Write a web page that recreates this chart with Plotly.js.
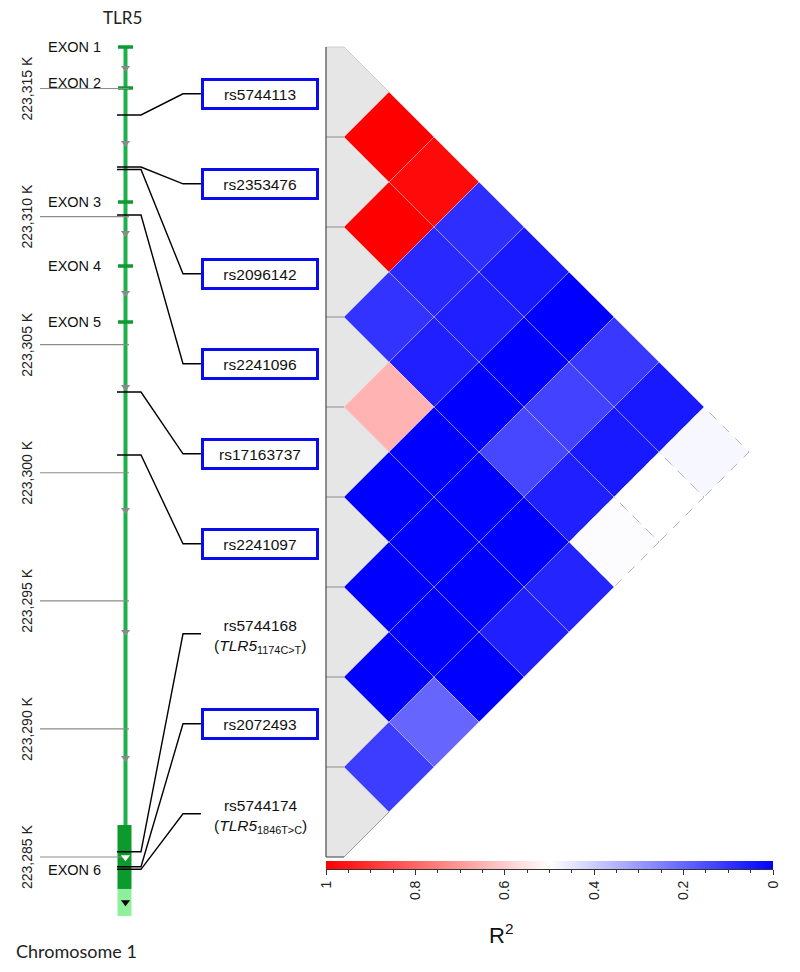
<!DOCTYPE html>
<html><head><meta charset="utf-8">
<script src="https://cdn.plot.ly/plotly-3.0.1.min.js"></script>
<style>html,body{margin:0;padding:0;background:#fff}#chart{width:800px;height:972px}</style>
</head><body><div id="chart"></div>
<script>
// ---------------- DATA ----------------
const snps = ['rs5744113','rs2353476','rs2096142','rs2241096','rs17163737','rs2241097','rs5744168','rs2072493','rs5744174'];
const snpPos = [223313966,223311936,223311838,223310062,223303152,223300693,223285207,223284622,223284520];
const snpBoxed = [true,true,true,true,true,true,false,true,false];
const snpAllele = ['','','','','','','1174C&gt;T','','1846T&gt;C'];
// pairwise R2, row i holds pairs (i, i+1..9)
const r2Rows = [
  [1.00,0.98,0.09,0.05,0.00,0.11,0.05,0.485],
  [1.00,0.08,0.06,0.00,0.13,0.05,0.50],
  [0.10,0.06,0.00,0.14,0.06,0.495],
  [0.65,0.00,0.00,0.00,0.07],
  [0.00,0.00,0.00,0.06],
  [0.00,0.00,0.00],
  [0.00,0.20],
  [0.12]
];
const exonNames = ['EXON 1','EXON 2','EXON 3','EXON 4','EXON 5','EXON 6'];
const exonPos = [223316620,223315020,223310569,223308071,223305885];
const exonLabelPos = [223316620,223315215,223310569,223308071,223305885,223284493];
const exon6Span = [223286252,223283754];
const utrSpan = [223283754,223282700];
const geneStart = 223316620;
const arrowPos = [223315800,223312873,223309359,223307017,223303347,223298546,223293784,223288865,223284989,223283232];
const genomeTicks = [223315000,223310000,223305000,223300000,223295000,223290000,223285000];
const genomeTickText = ['223,315 K','223,310 K','223,305 K','223,300 K','223,295 K','223,290 K','223,285 K'];
const r2Scale = [[0,'#0000ff'],[0.5,'#ffffff'],[1,'#ff0000']];

// ---------------- GEOMETRY ----------------
const PX0 = 344, UNIT = 90;
const px = p => (p - PX0) / UNIT;
const G_TOP = 223318455, G_BOT = 223280511;
const R_TOP = -0.022222, R_BOT = 10.777778;
const rowToBp = r => G_TOP + (r - R_TOP) / (R_BOT - R_TOP) * (G_BOT - G_TOP);
const AR = 'Arial, "Liberation Sans", sans-serif';

function r2Color(v){
  let r,g,b;
  if (v >= 0.5){ const t=(v-0.5)/0.5; r=255; g=Math.round(255*(1-t)); b=g; }
  else { const s=(0.5-v)/0.5; r=Math.round(255*(1-s)); g=r; b=255; }
  return `rgb(${r},${g},${b})`;
}

const shapes = [];
const annotations = [];
const traces = [];

// gene body
shapes.push({type:'line', xref:'x', yref:'y', x0:px(125.5), x1:px(125.5), y0:geneStart, y1:exon6Span[0],
  line:{color:'#1db14b', width:4}, layer:'below'});
exonPos.forEach(p => shapes.push({type:'line', xref:'x', yref:'y', x0:px(118), x1:px(133), y0:p, y1:p,
  line:{color:'#0e9a31', width:3.5}, layer:'below'}));
shapes.push({type:'rect', xref:'x', yref:'y', x0:px(117.5), x1:px(131.5), y0:exon6Span[0], y1:exon6Span[1],
  fillcolor:'#0b9a2b', line:{width:0}, layer:'below'});
shapes.push({type:'rect', xref:'x', yref:'y', x0:px(117.5), x1:px(131.5), y0:utrSpan[0], y1:utrSpan[1],
  fillcolor:'#8ff09c', line:{width:0}, layer:'below'});

// genome coordinate lines + labels
const gx=[], gy=[];
genomeTicks.forEach((t,i)=>{
  gx.push(px(40), px(129), null); gy.push(t, t, null);
  annotations.push({x:px(27), y:t, xref:'x', yref:'y', text:genomeTickText[i], textangle:-90, showarrow:false,
    xanchor:'center', yanchor:'middle', font:{family:AR, size:14, color:'#222'}});
});
traces.push({type:'scatter', mode:'lines', x:gx, y:gy, xaxis:'x', yaxis:'y', line:{color:'#8c8c8c', width:1.2}, hoverinfo:'skip', showlegend:false});

// connectors
const cx=[], cy=[];
snps.forEach((s,i)=>{
  const ly = rowToBp(i+1+0.02);
  cx.push(px(117), px(141), px(183), px(201), null);
  cy.push(snpPos[i], snpPos[i], ly, ly, null);
});
traces.push({type:'scatter', mode:'lines', x:cx, y:cy, xaxis:'x', yaxis:'y', line:{color:'#000', width:1.4}, hoverinfo:'skip', showlegend:false});

// direction arrows
traces.push({type:'scatter', mode:'markers', x:arrowPos.map(()=>px(125.5)), y:arrowPos, xaxis:'x', yaxis:'y',
  marker:{symbol:'triangle-down', size:8,
    color:arrowPos.map(p => (p<=exon6Span[0] && p>exon6Span[1]) ? '#ffffff' : (p<=utrSpan[0] && p>utrSpan[1]) ? '#000000' : '#8a8a8a')},
  hoverinfo:'skip', showlegend:false});

// exon labels
exonNames.forEach((n,i)=>annotations.push({x:px(46), y:exonLabelPos[i], xref:'x', yref:'y', text:n, showarrow:false,
  xanchor:'left', yanchor:'middle', font:{family:AR, size:14.5, color:'#111'}}));

// LD gray diagonal band
const n = snps.length;
let gp = `M${-0.2},0.5 L0,0.5`;
for (let r=1;r<=n;r++){ gp += ` L0.5,${r}`; if (r<n) gp += ` L0,${r+0.5}`; }
gp += ` L0,${n+0.5} L-0.2,${n+0.5} Z`;
shapes.push({type:'path', xref:'x', yref:'y2', path:gp, fillcolor:'#e6e6e6', line:{color:'#c4c4c4', width:0.8}, layer:'below'});
for (let r=1;r<n;r++) shapes.push({type:'line', xref:'x', yref:'y2', x0:-0.2, x1:0, y0:r+0.5, y1:r+0.5, line:{color:'#8a8a8a', width:1}, layer:'below'});
shapes.push({type:'line', xref:'x', yref:'y2', x0:-0.2, x1:-0.2, y0:0.5, y1:n+0.5, line:{color:'#555', width:1.2}});
shapes.push({type:'line', xref:'x', yref:'y2', x0:-0.2, x1:0, y0:n+0.5, y1:n+0.5, line:{color:'#666', width:1.2}});
shapes.push({type:'line', xref:'x', yref:'y2', x0:0, x1:0.5, y0:n+0.5, y1:n, line:{color:'#999', width:1}});

// LD cells
r2Rows.forEach((row,i0)=>{
  row.forEach((v,k)=>{
    const i=i0+1, j=i0+2+k;
    const x=(j-i)/2, y=(i+j)/2;
    const pale = Math.abs(v-0.5) < 0.08;
    shapes.push({type:'path', xref:'x', yref:'y2',
      path:`M${x-0.5},${y} L${x},${y-0.5} L${x+0.5},${y} L${x},${y+0.5} Z`,
      fillcolor:r2Color(v),
      line: pale ? {color:'#b4b4b4', width:1, dash:'dash'} : {color:'rgba(255,255,255,0.45)', width:0.7},
      layer:'below'});
  });
});

// SNP labels
snps.forEach((s,i)=>{
  if (snpBoxed[i]){
    annotations.push({x:px(260), y:i+1+0.02, xref:'x', yref:'y2', text:s, showarrow:false,
      width:110, height:24, borderpad:1, borderwidth:3, bordercolor:'#0b0bf0', bgcolor:'#ffffff',
      xanchor:'center', yanchor:'middle', font:{family:AR, size:15.5, color:'#111'}});
  } else {
    annotations.push({x:px(260), y:i+1+0.055, xref:'x', yref:'y2',
      text:`${s}<br>(<i>TLR5</i><sub>${snpAllele[i]}</sub>)`, showarrow:false,
      xanchor:'center', yanchor:'middle', font:{family:AR, size:15.5, color:'#111'}});
  }
});

// titles
annotations.push({x:122/800, y:1-18/972, xref:'paper', yref:'paper', text:'TLR5', showarrow:false,
  xanchor:'center', yanchor:'middle', font:{family:'Lato, "Open Sans", sans-serif', size:17, color:'#222'}});
annotations.push({x:14/800, y:1-951/972, xref:'paper', yref:'paper', text:'Chromosome 1', showarrow:false,
  xanchor:'left', yanchor:'middle', font:{family:'Lato, "Open Sans", sans-serif', size:18, color:'#222'}});
annotations.push({x:501/800, y:1-934/972, xref:'paper', yref:'paper', text:'R<sup>2</sup>', showarrow:false,
  xanchor:'center', yanchor:'middle', font:{family:AR, size:22, color:'#111'}});

// colour bar (R2 scale)
const zbar = [];
for (let k=0;k<=200;k++) zbar.push(k/200);
traces.push({type:'heatmap', x:zbar, y:[0.5], z:[zbar], xaxis:'x3', yaxis:'y3', colorscale:r2Scale,
  zmin:0, zmax:1, showscale:false, zsmooth:'best', hoverinfo:'skip'});

const layout = {
  width:800, height:972, margin:{l:0,r:0,t:0,b:0},
  paper_bgcolor:'#fff', plot_bgcolor:'rgba(0,0,0,0)', showlegend:false,
  xaxis:{domain:[0,1], range:[px(0), px(800)], visible:false, fixedrange:true},
  yaxis:{domain:[0,1], range:[G_BOT, G_TOP], visible:false, fixedrange:true},
  yaxis2:{domain:[0,1], range:[R_BOT, R_TOP], visible:false, overlaying:'y', anchor:'x', fixedrange:true},
  xaxis3:{domain:[326/800, 773/800], range:[1,0], anchor:'y3', showgrid:false, zeroline:false,
    showline:true, linecolor:'#333', linewidth:1, ticks:'outside', ticklen:5, tickwidth:1, tickcolor:'#333',
    tickmode:'linear', tick0:0, dtick:0.2, tickangle:-90, tickfont:{family:AR, size:14, color:'#222'},
    minor:{tickmode:'linear', tick0:0, dtick:0.05, ticks:'outside', ticklen:3, tickcolor:'#333'}, fixedrange:true},
  yaxis3:{domain:[(972-869)/972, (972-861)/972], range:[0,1], anchor:'x3', visible:false, fixedrange:true},
  shapes, annotations
};
Plotly.newPlot('chart', traces, layout, {displayModeBar:false, staticPlot:true});
</script></body></html>
